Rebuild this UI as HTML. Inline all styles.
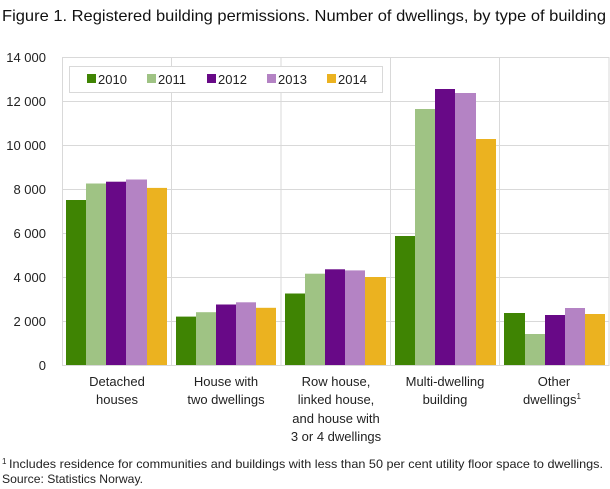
<!DOCTYPE html>
<html><head><meta charset="utf-8"><style>
body{margin:0;background:#fff;}
svg{display:block;font-family:"Liberation Sans",sans-serif;}
</style></head><body>
<svg width="610" height="489" xmlns="http://www.w3.org/2000/svg">
<text x="2" y="21" font-size="16" fill="#111" textLength="604" lengthAdjust="spacingAndGlyphs">Figure 1. Registered building permissions. Number of dwellings, by type of building</text>
<g stroke="#d9d9d9" stroke-width="1">
<line x1="62" y1="57.5" x2="609" y2="57.5"/><line x1="62" y1="101.5" x2="609" y2="101.5"/>
<line x1="62" y1="145.5" x2="609" y2="145.5"/><line x1="62" y1="189.5" x2="609" y2="189.5"/>
<line x1="62" y1="233.5" x2="609" y2="233.5"/><line x1="62" y1="277.5" x2="609" y2="277.5"/>
<line x1="62" y1="321.5" x2="609" y2="321.5"/><line x1="62" y1="365.5" x2="609" y2="365.5"/>
<line x1="62.5" y1="57" x2="62.5" y2="366"/><line x1="171.5" y1="57" x2="171.5" y2="366"/>
<line x1="281" y1="57" x2="281" y2="366"/><line x1="390.5" y1="57" x2="390.5" y2="366"/>
<line x1="499.5" y1="57" x2="499.5" y2="366"/><line x1="609" y1="57" x2="609" y2="366"/>
</g>
<g font-size="13" fill="#222" text-anchor="end">
<text x="46" y="62">14 000</text><text x="46" y="106">12 000</text><text x="46" y="150">10 000</text>
<text x="46" y="194">8 000</text><text x="46" y="238">6 000</text><text x="46" y="282">4 000</text>
<text x="46" y="326">2 000</text><text x="46" y="370">0</text>
</g>
<g>
<rect x="66" y="200" width="20" height="165" fill="#3f8403"/>
<rect x="86" y="183.5" width="20" height="181.5" fill="#9fc384"/>
<rect x="106" y="181.7" width="20" height="183.3" fill="#680987"/>
<rect x="126" y="179.5" width="21" height="185.5" fill="#b483c4"/>
<rect x="147" y="187.9" width="20" height="177.1" fill="#ebb220"/>
<rect x="176" y="316.6" width="20" height="48.4" fill="#3f8403"/>
<rect x="196" y="312.2" width="20" height="52.8" fill="#9fc384"/>
<rect x="216" y="304.5" width="20" height="60.5" fill="#680987"/>
<rect x="236" y="302.3" width="20" height="62.7" fill="#b483c4"/>
<rect x="256" y="307.8" width="20" height="57.2" fill="#ebb220"/>
<rect x="285" y="293.5" width="20" height="71.5" fill="#3f8403"/>
<rect x="305" y="273.7" width="20" height="91.3" fill="#9fc384"/>
<rect x="325" y="269.3" width="20" height="95.7" fill="#680987"/>
<rect x="345" y="270.4" width="20" height="94.6" fill="#b483c4"/>
<rect x="365" y="277" width="21" height="88" fill="#ebb220"/>
<rect x="395" y="236" width="20" height="129" fill="#3f8403"/>
<rect x="415" y="109" width="20" height="256" fill="#9fc384"/>
<rect x="435" y="89" width="20" height="276" fill="#680987"/>
<rect x="455" y="93" width="21" height="272" fill="#b483c4"/>
<rect x="476" y="139" width="20" height="226" fill="#ebb220"/>
<rect x="504" y="313" width="21" height="52" fill="#3f8403"/>
<rect x="525" y="334" width="20" height="31" fill="#9fc384"/>
<rect x="545" y="315" width="20" height="50" fill="#680987"/>
<rect x="565" y="308" width="20" height="57" fill="#b483c4"/>
<rect x="585" y="314" width="20" height="51" fill="#ebb220"/>
</g>
<rect x="69.5" y="66.5" width="313" height="26" fill="#fff" stroke="#d9d9d9"/>
<g font-size="13" fill="#222">
<rect x="87" y="74" width="9" height="9" fill="#3f8403"/><text x="98" y="84">2010</text>
<rect x="147" y="74" width="9" height="9" fill="#9fc384"/><text x="158" y="84">2011</text>
<rect x="207" y="74" width="9" height="9" fill="#680987"/><text x="218" y="84">2012</text>
<rect x="267" y="74" width="9" height="9" fill="#b483c4"/><text x="278" y="84">2013</text>
<rect x="327" y="74" width="9" height="9" fill="#ebb220"/><text x="338" y="84">2014</text>
</g>
<g font-size="13" fill="#222" text-anchor="middle">
<text x="117" y="386">Detached</text><text x="117" y="404">houses</text>
<text x="226" y="386">House with</text><text x="226" y="404">two dwellings</text>
<text x="336" y="386">Row house,</text><text x="336" y="404">linked house,</text>
<text x="336" y="423">and house with</text><text x="336" y="441">3 or 4 dwellings</text>
<text x="445" y="386">Multi-dwelling</text><text x="445" y="404">building</text>
<text x="554" y="386">Other</text><text x="552" y="404">dwellings<tspan font-size="8" dy="-5">1</tspan></text>
</g>
<g font-size="12" fill="#222">
<text x="2" y="464" font-size="8">1</text>
<text x="9" y="468" textLength="594" lengthAdjust="spacingAndGlyphs">Includes residence for communities and buildings with less than 50 per cent utility floor space to dwellings.</text>
<text x="2" y="483" textLength="141" lengthAdjust="spacingAndGlyphs">Source: Statistics Norway.</text>
</g>
</svg>
</body></html>
